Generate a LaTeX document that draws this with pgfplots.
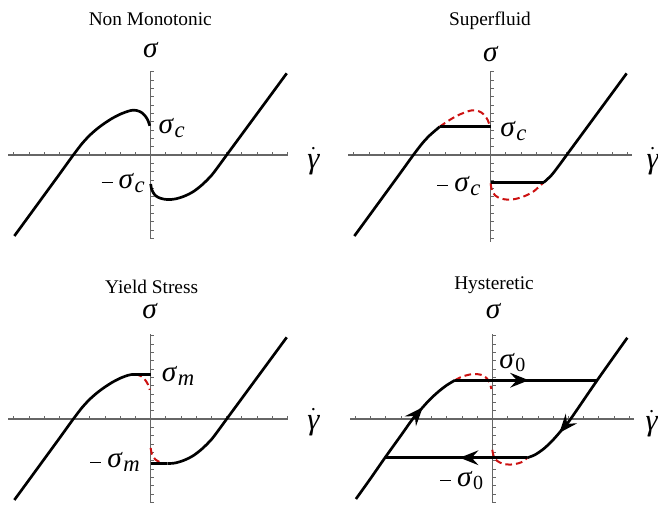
\RequirePackage{fix-cm}
\documentclass[border=0pt]{standalone}
\usepackage{fontspec}
\setmainfont{Liberation Serif}
\usepackage{pgfplots}
\pgfplotsset{compat=1.18}
\usetikzlibrary{arrows.meta,decorations.markings}
\definecolor{axgray}{HTML}{666666}
\definecolor{dashred}{HTML}{CC1111}

\pgfplotsset{
  panel/.style={
    scale only axis, anchor=south west,
    axis lines=middle, axis line style={-, axgray, line width=0.85pt},
    xtick={-9,...,9}, ytick={-10,...,10},
    xticklabels={}, yticklabels={},
    tick align=inside, major tick length=2.6pt,
    tick style={axgray, line width=0.6pt},
    clip=false,
  },
  curve/.style={black, line width=2pt, line join=round},
  unstable/.style={dashred, line width=1.5pt, dash pattern=on 5pt off 3pt},
}
\tikzset{
  ttl/.style={anchor=base, font=\fontsize{14.5}{17}\selectfont},
  lbl/.style={inner sep=0pt, font=\fontsize{22}{26}\selectfont},
  flow at/.style={postaction={decorate}, decoration={markings,
    mark=at position #1 with {\arrow{Stealth[length=14pt,width=11pt,inset=5pt]}}}},
}
% sigma with a large Mathematica-like subscript
\newcommand{\sig}[1]{\textit{σ}\kern0.5pt\raisebox{-3pt}{\fontsize{17}{17}\selectfont\itshape #1}}
\newcommand{\sigz}{\textit{σ}\kern0.5pt\raisebox{-2.2pt}{\fontsize{15}{15}\selectfont 0}}
\newcommand{\mn}{\raisebox{4pt}{\rule{8.25pt}{0.75pt}}\hspace{4.5pt}}
\newcommand{\gdot}{{\fontsize{23}{27}\selectfont$\dot{\hbox{\itshape γ}}$}}

\begin{document}
\begin{tikzpicture}
\useasboundingbox (0,0) rectangle (493.5pt,379.5pt);

% ---- Non Monotonic
\begin{axis}[panel, at={(6.2pt,200.25pt)}, width=210pt, height=126pt,
  xmin=-9.37, xmax=9.05, ymin=-10.08, ymax=10.08]
\addplot[curve, smooth] coordinates {(-8.97,-9.72) (-8,-7.3) (-7,-4.8) (-6,-2.3) (-5.09,0) (-4.5,1.4) (-4,2.38) (-3.5,3.18) (-3,3.85) (-2.5,4.43) (-2,4.9) (-1.5,5.24) (-1.2,5.37) (-0.9,5.33) (-0.6,5.1) (-0.35,4.65) (-0.18,4.15) (-0.06,3.5)};
\addplot[curve, smooth] coordinates {(0,-3.48) (0.08,-4.2) (0.3,-4.85) (0.65,-5.2) (1.1,-5.35) (1.6,-5.28) (2.2,-4.95) (2.8,-4.4) (3.4,-3.55) (4.0,-2.45) (4.5,-1.25) (5.0,0) (6,2.48) (7,4.96) (8,7.44) (8.95,9.8)};
\end{axis}
\node[ttl] at (112.7pt,360.2pt) {Non Monotonic};
\node[lbl, anchor=base] at (113.1pt,336pt) {\textit{σ}};
\node[lbl, anchor=base] at (235pt,253.3pt) {\gdot};
\node[lbl, anchor=base west] at (118.7pt,279.5pt) {\sig{c}};
\node[lbl, anchor=base east] at (108.75pt,238.3pt) {\mn\sig{c}};

% ---- Superfluid
\begin{axis}[panel, at={(261.2pt,198.2pt)}, width=212.55pt, height=128pt,
  xmin=-9.37, xmax=9.28, ymin=-10.4, ymax=10.08]
\addplot[unstable, smooth] coordinates {(-3.35,3.4) (-3,3.85) (-2.5,4.43) (-2,4.9) (-1.5,5.24) (-1.2,5.37) (-0.9,5.33) (-0.6,5.1) (-0.35,4.65) (-0.18,4.15) (-0.06,3.5)};
\addplot[unstable, smooth] coordinates {(0,-3.4) (0.08,-4.2) (0.3,-4.85) (0.65,-5.2) (1.1,-5.35) (1.6,-5.28) (2.2,-4.95) (2.8,-4.4) (3.3,-3.6) (3.5,-3.28)};
\addplot[curve, smooth] coordinates {(-8.97,-9.72) (-8,-7.3) (-7,-4.8) (-6,-2.3) (-5.09,0) (-4.5,1.4) (-4,2.38) (-3.35,3.4)};
\addplot[curve] coordinates {(-3.35,3.4) (0,3.4)};
\addplot[curve] coordinates {(0,-3.28) (3.5,-3.28)};
\addplot[curve, smooth] coordinates {(3.5,-3.28) (4.0,-2.42) (4.5,-1.25) (5.0,0) (6,2.48) (7,4.96) (8,7.44) (8.95,9.8)};
\end{axis}
\node[ttl] at (367.5pt,360pt) {Superfluid};
\node[lbl, anchor=base] at (368.1pt,333.25pt) {\textit{σ}};
\node[lbl, anchor=base] at (489.5pt,253.3pt) {\gdot};
\node[lbl, anchor=base west] at (375pt,277pt) {\sig{c}};
\node[lbl, anchor=base east] at (360.5pt,235.75pt) {\mn\sig{c}};

% ---- Yield Stress
\begin{axis}[panel, at={(6.2pt,2.25pt)}, width=210pt, height=126.75pt,
  xmin=-9.37, xmax=9.05, ymin=-10.08, ymax=10.2]
\addplot[unstable, smooth] coordinates {(-1.0,5.35) (-0.9,5.33) (-0.6,5.1) (-0.35,4.65) (-0.18,4.15) (-0.06,3.5)};
\addplot[unstable, smooth] coordinates {(0,-3.48) (0.08,-4.2) (0.3,-4.85) (0.65,-5.2) (1.0,-5.34)};
\addplot[curve, smooth] coordinates {(-8.97,-9.72) (-8,-7.3) (-7,-4.8) (-6,-2.3) (-5.09,0) (-4.5,1.4) (-4,2.38) (-3.5,3.18) (-3,3.85) (-2.5,4.43) (-2,4.9) (-1.5,5.24) (-1.2,5.35)};
\addplot[curve] coordinates {(-1.2,5.35) (0,5.35)};
\addplot[curve] coordinates {(0,-5.35) (1.1,-5.35)};
\addplot[curve, smooth] coordinates {(1.1,-5.35) (1.6,-5.28) (2.2,-4.95) (2.8,-4.4) (3.4,-3.55) (4.0,-2.45) (4.5,-1.25) (5.0,0) (6,2.48) (7,4.96) (8,7.44) (8.95,9.8)};
\end{axis}
\node[ttl] at (113.75pt,159.2pt) {Yield Stress};
\node[lbl, anchor=base] at (112.5pt,140.5pt) {\textit{σ}};
\node[lbl, anchor=base] at (235pt,57.2pt) {\gdot};
\node[lbl, anchor=base west] at (121.25pt,93.5pt) {\sig{m}};
\node[lbl, anchor=base east] at (105pt,28.5pt) {\mn\sig{m}};

% ---- Hysteretic
\begin{axis}[panel, at={(262.5pt,2.25pt)}, width=213pt, height=126.75pt,
  xmin=-9.36, xmax=9.32, ymin=-10.08, ymax=10.2]
\addplot[unstable, smooth] coordinates {(-2.46,4.65) (-2,5.08) (-1.5,5.33) (-1.2,5.4) (-0.9,5.36) (-0.6,5.22) (-0.35,4.85) (-0.18,4.35) (-0.06,3.6)};
\addplot[unstable, smooth] coordinates {(0,-3.7) (0.08,-4.4) (0.3,-5.0) (0.7,-5.38) (1.2,-5.47) (1.75,-5.3) (2.05,-5.05) (2.3,-4.65)};
\addplot[curve, smooth, flow at=0.73] coordinates {(-8.97,-9.6) (-8,-7.12) (-7.06,-4.65) (-6,-1.95) (-5.24,0) (-4.65,1.25) (-4.1,2.35) (-3.5,3.35) (-3,4.05) (-2.46,4.65)};
\addplot[curve, flow at=0.52] coordinates {(-2.46,4.65) (6.9,4.65)};
\addplot[curve, smooth, flow at=0.74] coordinates {(8.88,9.75) (6.9,4.65) (5.15,0) (4.55,-1.35) (4.0,-2.5) (3.4,-3.55) (2.8,-4.3) (2.3,-4.65)};
\addplot[curve, flow at=0.475] coordinates {(2.3,-4.65) (-7.06,-4.65)};
\end{axis}
\node[ttl] at (370.5pt,162.2pt) {Hysteretic};
\node[lbl, anchor=base] at (370.25pt,140.8pt) {\textit{σ}};
\node[lbl, anchor=base] at (488.8pt,56.25pt) {\gdot};
\node[lbl, anchor=base west] at (374.25pt,103.25pt) {\sigz};
\node[lbl, anchor=base east] at (362.5pt,14.5pt) {\mn\sigz};
\end{tikzpicture}
\end{document}
